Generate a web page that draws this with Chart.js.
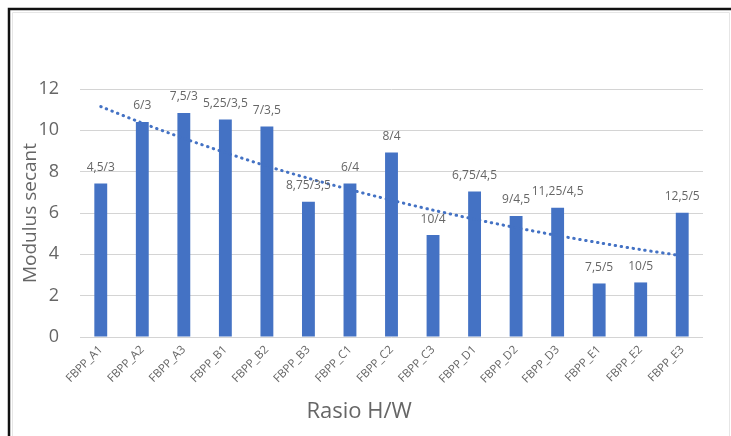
<!DOCTYPE html>
<html>
<head>
<meta charset="utf-8">
<script src="https://cdn.jsdelivr.net/npm/chart.js@4/dist/chart.umd.min.js"></script>
<style>
  html, body { margin: 0; padding: 0; background: #fff; }
  #wrap { width: 731px; height: 436px; position: relative; }
</style>
</head>
<body>
<div id="wrap"><canvas id="c" width="731" height="436"></canvas></div>
<script>
const categories = ['FBPP_A1','FBPP_A2','FBPP_A3','FBPP_B1','FBPP_B2','FBPP_B3','FBPP_C1','FBPP_C2','FBPP_C3','FBPP_D1','FBPP_D2','FBPP_D3','FBPP_E1','FBPP_E2','FBPP_E3'];
const modulusValues = [7.43, 10.40, 10.84, 10.53, 10.19, 6.54, 7.43, 8.93, 4.93, 7.04, 5.86, 6.25, 2.59, 2.64, 6.01];
const ratioLabels = ['4,5/3','6/3','7,5/3','5,25/3,5','7/3,5','8,75/3,5','6/4','8/4','10/4','6,75/4,5','9/4,5','11,25/4,5','7,5/5','10/5','12,5/5'];
const trendValues = [11.15, 10.35, 9.61, 8.92, 8.27, 7.68, 7.13, 6.62, 6.14, 5.70, 5.29, 4.91, 4.56, 4.23, 3.93];
const yTickValues = [0, 2, 4, 6, 8, 10, 12];
const yTitle = 'Modulus secant';
const xTitle = 'Rasio H/W';

const BLUE = '#4472C4';
const TEXT = '#666666';

const framePlugin = {
  id: 'frame',
  beforeDraw(chart) {
    const ctx = chart.ctx;
    ctx.save();
    ctx.fillStyle = '#fff';
    ctx.fillRect(0, 0, chart.width, chart.height);
    ctx.strokeStyle = '#e6e6e6';
    ctx.lineWidth = 1;
    ctx.beginPath();
    ctx.moveTo(12.5, 436); ctx.lineTo(12.5, 12.5); ctx.lineTo(729.5, 12.5); ctx.lineTo(729.5, 436);
    ctx.stroke();
    ctx.strokeStyle = '#111';
    ctx.lineWidth = 2.5;
    ctx.beginPath();
    ctx.moveTo(9, 436); ctx.lineTo(9, 9); ctx.lineTo(731, 9);
    ctx.stroke();
    ctx.restore();
  },
  afterDraw(chart) {
    const ctx = chart.ctx;
    const a = chart.chartArea;
    ctx.save();
    ctx.fillStyle = TEXT;
    ctx.font = '22px "Open Sans"';
    ctx.textAlign = 'center';
    ctx.textBaseline = 'middle';
    ctx.fillText(xTitle, a.left + (a.right - a.left) * 0.448, 412);
    ctx.restore();
  }
};

const labelPlugin = {
  id: 'barLabels',
  afterDatasetsDraw(chart) {
    const meta = chart.getDatasetMeta(0);
    const ctx = chart.ctx;
    ctx.save();
    ctx.fillStyle = TEXT;
    ctx.font = '12px "Open Sans"';
    ctx.textAlign = 'center';
    ctx.textBaseline = 'middle';
    meta.data.forEach((el, i) => {
      ctx.fillText(ratioLabels[i], el.x, el.y - 16);
    });
    ctx.restore();
  }
};

new Chart(document.getElementById('c'), {
  type: 'bar',
  data: {
    labels: categories,
    datasets: [
      {
        type: 'bar',
        data: modulusValues,
        backgroundColor: BLUE,
        categoryPercentage: 1,
        barPercentage: 0.31,
        order: 1
      },
      {
        type: 'line',
        data: trendValues,
        borderColor: BLUE,
        borderWidth: 3,
        borderDash: [0.5, 5.5],
        borderCapStyle: 'round',
        pointRadius: 0,
        tension: 0.3,
        fill: false,
        order: 0
      }
    ]
  },
  plugins: [framePlugin, labelPlugin],
  options: {
    responsive: false,
    animation: false,
    events: [],
    layout: { padding: { top: 89, right: 28, left: 0, bottom: 0 } },
    plugins: { legend: { display: false }, tooltip: { enabled: false }, title: { display: false } },
    scales: {
      x: {
        grid: { display: false, drawTicks: false },
        border: { display: false },
        ticks: {
          autoSkip: false,
          minRotation: 45,
          maxRotation: 45,
          padding: 6,
          color: TEXT,
          font: { family: 'Open Sans', size: 11.5 }
        },
        afterFit(scale) { scale.height = 99; }
      },
      y: {
        min: 0,
        max: 12,
        afterBuildTicks(scale) { scale.ticks = yTickValues.map(v => ({ value: v })); },
        grid: { color: '#d4d4d4', lineWidth: 1, drawTicks: false },
        border: { display: false },
        ticks: {
          padding: 21,
          color: TEXT,
          font: { family: 'Open Sans', size: 18 }
        },
        title: {
          display: true,
          text: yTitle,
          color: TEXT,
          font: { family: '"Liberation Sans Narrow", "Open Sans"', size: 19 },
          padding: { top: 19, bottom: 0 }
        },
        afterFit(scale) { scale.width = 80; }
      }
    }
  }
});
</script>
</body>
</html>
